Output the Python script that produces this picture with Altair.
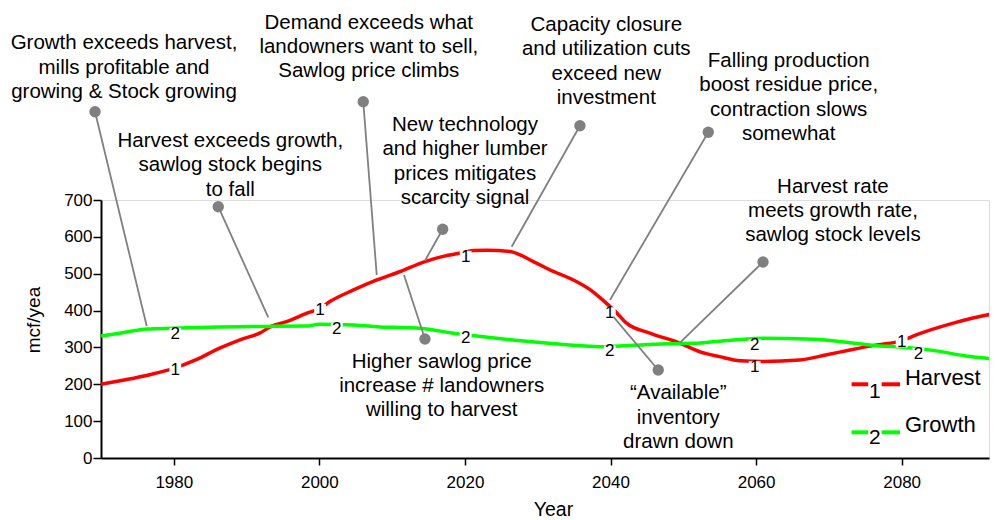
import altair as alt
import pandas as pd

# ---- curve data (year, mcf/year) ----
harvest_year = [1970, 1973, 1976.7, 1980, 1983, 1986.3, 1989, 1991.8, 1993.4, 1995.5, 1998.3, 2000,
                2001.5, 2004.7, 2007.9, 2011.1, 2014.5, 2017, 2019.6, 2021.1, 2023, 2026.2, 2029.4,
                2031.7, 2034.9, 2037.6, 2039.2, 2040.9, 2042.2, 2045.4, 2049.5, 2052.3, 2055, 2057.8,
                2061, 2066, 2069.7, 2072.9, 2076.6, 2080, 2082, 2087.1, 2091.7, 2093.2]
harvest_value = [200, 211, 226, 243, 266, 298, 320, 339, 357, 370, 393, 405,
                 425, 456, 483, 506, 533, 547, 557, 563, 564, 560, 533,
                 510, 483, 451, 424, 393, 366, 339, 312, 288, 275, 264,
                 262, 266, 280, 293, 307, 318, 334, 366, 388, 393]

growth_year = [1970, 1973, 1976.3, 1980, 1985, 1992.8, 1998.3, 2000, 2004.7, 2008.8, 2011.1, 2014.7,
               2018, 2021.6, 2026.2, 2030, 2034, 2038.6, 2041.3, 2047.7, 2052.3, 2056.9, 2061,
               2067.9, 2072.9, 2077, 2079.3, 2084.3, 2088.8, 2093.2]
growth_value = [331, 340, 350, 352, 355, 357, 358, 363, 361, 355, 354, 350,
                340, 331, 321, 314, 307, 302, 304, 310, 312, 320, 325,
                322, 313, 304, 302, 292, 277, 268]

# ---- numbered labels sitting on the curves ----
label_series = ["Harvest"] * 6 + ["Growth"] * 6
label_text = ["1"] * 6 + ["2"] * 6
label_year = [1980.2, 2000.1, 2020.1, 2039.9, 2059.8, 2080.0,
              1980.2, 2002.4, 2020.1, 2039.9, 2059.8, 2082.3]
label_value = [239, 402, 546, 393, 247, 316,
               337, 350, 325, 289, 307, 283]

# ---- annotations ----
ann_lines = [
    ["Growth exceeds harvest,", "mills profitable and", "growing & Stock growing"],
    ["Harvest exceeds growth,", "sawlog stock begins", "to fall"],
    ["Demand exceeds what", "landowners want to sell,", "Sawlog price climbs"],
    ["New technology", "and higher lumber", "prices mitigates", "scarcity signal"],
    ["Higher sawlog price", "increase # landowners", "willing to harvest"],
    ["Capacity closure", "and utilization cuts", "exceed new", "investment"],
    ["Falling production", "boost residue price,", "contraction slows", "somewhat"],
    ["Harvest rate", "meets growth rate,", "sawlog stock levels"],
    ["\u201cAvailable\u201d", "inventory", "drawn down"],
]
ann_text_year = [1973.16, 1987.76, 2006.79, 2020.01, 2016.81, 2039.42, 2064.48, 2070.56, 2049.31]
ann_text_value = [1125, 860, 1181, 903.5, 261, 1175, 1077, 736, 175.5]
ann_dot_year = [1969.18, 1986.11, 2006.03, 2016.94, 2014.51, 2035.80, 2053.43, 2060.95, 2046.56]
ann_dot_value = [939.6, 681.8, 966.7, 620.5, 322.9, 901.6, 883.7, 531.8, 238.8]
ann_end_year = [1976.28, 1992.98, 2007.88, 2014.51, 2011.63, 2026.42, 2039.93, 2049.55, 2040.38]
ann_end_value = [358.1, 381.7, 496.5, 535.3, 496.5, 573.3, 428.7, 312.8, 383.4]
LINE_STEP = 66  # data units between annotation text lines

# ---- legend ----
legend_names = ["Harvest", "Growth"]
legend_nums = ["1", "2"]
legend_seg_x = [[2073.12, 2075.4], [2077.25, 2079.77]]
legend_line_value = [200.0, 69.7]
legend_num_year = 2076.3
legend_num_value = [179.9, 54.3]
legend_text_year = 2080.45
legend_text_value = [217.1, 89.5]

x_ticks = [1980, 2000, 2020, 2040, 2060, 2080]
y_ticks = [0, 100, 200, 300, 400, 500, 600, 700]

RED = "#ff0000"
GREEN = "#00ff00"
GRAY = "#808080"
FONT = "Liberation Sans"

xs = alt.Scale(domain=[1970, 2092], nice=False, zero=False)
ys = alt.Scale(domain=[0, 700], nice=False, zero=True)
cs = alt.Scale(domain=["Harvest", "Growth"], range=[RED, GREEN])

X_AXIS = alt.Axis(
    values=x_ticks, tickCount=6, format="d", title="Year",
    titleFontSize=19.5, titleFontWeight="normal", titleFont=FONT, titleColor="black",
    titleX=452, titleY=51, titleBaseline="middle", titleAlign="center",
    labelFontSize=17, labelFont=FONT, labelColor="black", labelPadding=9, labelOverlap=False,
    tickSize=7, tickWidth=1.5, tickColor="black", domainColor="black", domainWidth=2,
    grid=False)
Y_AXIS = alt.Axis(
    values=y_ticks, tickCount=8, format="d", title="mcf/yea",
    titleFontSize=19, titleFontWeight="normal", titleFont=FONT, titleColor="black",
    titleAngle=270, titleX=-67.5, titleY=119.5, titleAlign="center", titleBaseline="middle",
    labelFontSize=17, labelFont=FONT, labelColor="black", labelPadding=1, labelOverlap=False,
    labelFlush=False, tickSize=8, tickWidth=1.5, tickColor="black", domainColor="black",
    domainWidth=2, grid=False)


def X(field):
    return alt.X(field, type="quantitative", scale=xs, axis=X_AXIS)


def Y(field):
    return alt.Y(field, type="quantitative", scale=ys, axis=Y_AXIS)


curves = pd.concat([
    pd.DataFrame({"year": harvest_year, "value": harvest_value, "series": "Harvest"}),
    pd.DataFrame({"year": growth_year, "value": growth_value, "series": "Growth"}),
])
labels = pd.DataFrame({"year": label_year, "value": label_value,
                       "text": label_text, "series": label_series})

rows = []
for i, lines in enumerate(ann_lines):
    for j, t in enumerate(lines):
        rows.append({"year": ann_text_year[i], "value": ann_text_value[i] - j * LINE_STEP, "text": t})
ann_txt = pd.DataFrame(rows)
ann = pd.DataFrame({"dy": ann_dot_year, "dv": ann_dot_value, "ey": ann_end_year, "ev": ann_end_value})

leg_seg_rows = []
for k, name in enumerate(legend_names):
    for seg in legend_seg_x:
        leg_seg_rows.append({"x1": seg[0], "x2": seg[1], "v": legend_line_value[k], "series": name})
leg_seg = pd.DataFrame(leg_seg_rows)
leg_num = pd.DataFrame({"year": legend_num_year, "value": legend_num_value, "text": legend_nums})
leg_txt = pd.DataFrame({"year": legend_text_year, "value": legend_text_value, "text": legend_names})

line_layer = alt.Chart(curves).mark_line(strokeWidth=3.5, interpolate="monotone", clip=True).encode(
    x=X("year"), y=Y("value"), color=alt.Color("series:N", scale=cs, legend=None), detail="series:N")

label_bg = alt.Chart(labels).mark_square(size=140, color="white", opacity=1).encode(
    x=X("year"), y=Y("value"))
label_txt = alt.Chart(labels).mark_text(font=FONT, fontSize=17, color="black", baseline="middle").encode(
    x=X("year"), y=Y("value"), text="text:N")

conn = alt.Chart(ann).mark_rule(color=GRAY, strokeWidth=1.8, clip=False).encode(
    x=X("dy"), y=Y("dv"), x2="ey:Q", y2="ev:Q")
dots = alt.Chart(ann).mark_circle(size=130, color=GRAY, opacity=1, clip=False).encode(
    x=X("dy"), y=Y("dv"))
ann_text = alt.Chart(ann_txt).mark_text(font=FONT, fontSize=20.5, color="black",
                                        baseline="middle", align="center", clip=False).encode(
    x=X("year"), y=Y("value"), text="text:N")

leg_lines = alt.Chart(leg_seg).mark_rule(strokeWidth=4).encode(
    x=X("x1"), x2="x2:Q", y=Y("v"),
    color=alt.Color("series:N", scale=cs, legend=None))
leg_nums = alt.Chart(leg_num).mark_text(font=FONT, fontSize=21, color="black", baseline="middle").encode(
    x=X("year"), y=Y("value"), text="text:N")
leg_text = alt.Chart(leg_txt).mark_text(font=FONT, fontSize=22, color="black",
                                        baseline="middle", align="left").encode(
    x=X("year"), y=Y("value"), text="text:N")

chart = alt.layer(line_layer, label_bg, label_txt, conn, dots, ann_text,
                  leg_lines, leg_nums, leg_text).properties(
    width=888, height=258,
    padding={"left": 93, "top": 192, "right": 1, "bottom": 62},
    autosize=alt.AutoSizeParams(type="none"),
).configure_view(stroke=None).configure(background="white")

chart.save("out.html", embed_options={"renderer": "svg", "actions": False})
